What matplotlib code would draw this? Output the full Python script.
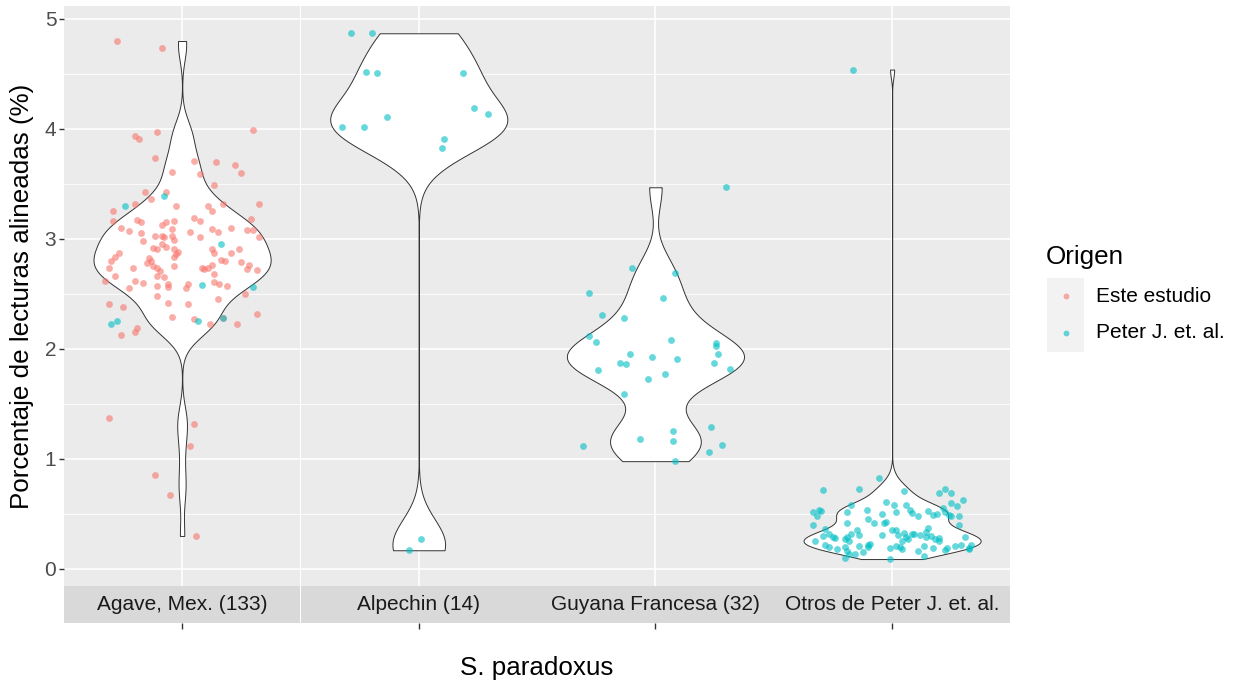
import numpy as np
import matplotlib.pyplot as plt
from matplotlib.lines import Line2D
from matplotlib.patches import Rectangle

plt.rcParams["font.family"] = ["Liberation Sans", "DejaVu Sans"]

W, H = 1234, 685

groups = ["Agave, Mex. (133)", "Alpechin (14)", "Guyana Francesa (32)", "Otros de Peter J. et. al."]
origins = ["Este estudio", "Peter J. et. al."]
colors = ["#F8766D", "#00BFC4"]

# Agave, Mex. - points from this study
agave_este_vals = [4.80, 4.74, 3.94, 3.91, 3.97, 3.99, 3.74, 3.71, 3.70, 3.67, 3.60, 3.61, 3.59, 3.49,
                   3.43, 3.43, 3.36, 3.32, 3.30, 3.30, 3.25, 3.32, 3.32, 3.25, 3.16, 3.17, 3.15, 3.19,
                   3.16, 3.18, 3.10, 3.07, 3.13, 3.15, 3.16, 3.09, 3.09, 3.06, 3.10, 3.08, 3.08, 3.02,
                   3.05, 2.98, 3.03, 3.03, 3.02, 3.03, 2.99, 3.06, 3.02, 2.92, 2.91, 2.95, 2.93, 2.91,
                   2.88, 2.86, 2.84, 2.91, 2.87, 2.87, 2.91, 2.87, 2.84, 2.80, 2.74, 2.62, 2.66, 2.74,
                   2.83, 2.80, 2.78, 2.75, 2.74, 2.71, 2.75, 2.66, 2.65, 2.62, 2.60, 2.55, 2.57, 2.59,
                   2.56, 2.55, 2.59, 2.74, 2.73, 2.74, 2.76, 2.68, 2.81, 2.80, 2.79, 2.73, 2.76, 2.72,
                   2.61, 2.59, 2.57, 2.50, 2.48, 2.45, 2.41, 2.38, 2.19, 2.15, 2.13, 2.42, 2.41, 2.29,
                   2.27, 2.23, 2.28, 2.23, 2.32, 1.37, 1.32, 1.12, 0.85, 0.67, 0.30]
agave_este_jit = [-0.33, -0.10, -0.24, -0.22, -0.13, 0.36, -0.14, 0.06, 0.17, 0.27, 0.30, -0.05, 0.09, 0.16,
                  -0.19, -0.08, -0.16, -0.24, -0.03, 0.13, 0.15, 0.21, 0.39, -0.35, -0.35, -0.23, -0.21, 0.06,
                  0.09, 0.35, -0.31, -0.27, -0.10, -0.08, -0.04, -0.05, 0.15, 0.18, 0.25, 0.33, 0.36, 0.39,
                  -0.21, -0.20, -0.14, -0.10, -0.09, -0.05, -0.04, 0.04, 0.09, -0.15, -0.13, -0.10, -0.08, -0.04,
                  -0.02, -0.03, -0.04, 0.15, 0.16, 0.25, 0.29, -0.32, -0.34, -0.36, -0.37, -0.39, -0.34, -0.25,
                  -0.17, -0.16, -0.18, -0.15, -0.13, -0.11, -0.04, -0.13, -0.09, -0.24, -0.20, -0.27, -0.13, -0.07,
                  -0.07, 0.02, 0.03, 0.10, 0.11, 0.13, 0.15, 0.16, 0.20, 0.22, 0.30, 0.33, 0.34, 0.38,
                  0.16, 0.19, 0.23, 0.32, -0.13, 0.18, -0.37, -0.30, -0.23, -0.24, -0.31, -0.07, 0.03, -0.05,
                  0.06, 0.14, 0.21, 0.28, 0.38, -0.37, 0.06, 0.04, -0.14, -0.06, 0.07]
# Agave, Mex. - points from Peter J. et al.
agave_peter_vals = [3.39, 3.30, 2.95, 2.58, 2.56, 2.23, 2.25, 2.25, 2.28]
agave_peter_jit = [-0.09, -0.29, 0.20, 0.10, 0.36, -0.36, -0.33, 0.08, 0.21]

alpechin_vals = [4.87, 4.87, 4.52, 4.51, 4.51, 4.19, 4.14, 4.11, 4.02, 4.02, 3.91, 3.83, 0.27, 0.17]
alpechin_jit = [-0.345, -0.24, -0.27, -0.21, 0.225, 0.28, 0.35, -0.16, -0.39, -0.28, 0.13, 0.12, 0.01, -0.05]

guyana_vals = [3.47, 2.74, 2.69, 2.51, 2.46, 2.31, 2.28, 2.12, 2.06, 2.08, 2.05, 2.03, 1.95, 1.95, 1.93, 1.91,
               1.87, 1.86, 1.87, 1.81, 1.82, 1.77, 1.73, 1.59, 1.29, 1.25, 1.18, 1.16, 1.12, 1.13, 1.06, 0.98]
guyana_jit = [0.36, -0.12, 0.10, -0.34, 0.04, -0.27, -0.16, -0.34, -0.30, 0.08, 0.31, 0.31, 0.32, -0.13, -0.02, 0.11,
              -0.18, -0.15, 0.30, -0.29, 0.38, 0.05, -0.04, -0.16, 0.28, 0.09, -0.08, 0.09, -0.37, 0.34, 0.27, 0.10]

otros_vals = [4.54, 0.83, 0.72, 0.73, 0.71, 0.69, 0.73, 0.69, 0.63, 0.60, 0.55, 0.57, 0.52, 0.54, 0.53, 0.48,
              0.40, 0.58, 0.52, 0.54, 0.61, 0.58, 0.52, 0.58, 0.54, 0.51, 0.48, 0.53, 0.49, 0.50, 0.52, 0.49,
              0.48, 0.48, 0.40, 0.50, 0.45, 0.42, 0.42, 0.43, 0.42, 0.36, 0.32, 0.30, 0.25, 0.29, 0.28, 0.27,
              0.29, 0.25, 0.32, 0.35, 0.31, 0.22, 0.20, 0.18, 0.20, 0.16, 0.10, 0.14, 0.14, 0.21, 0.15, 0.20,
              0.22, 0.23, 0.31, 0.19, 0.09, 0.35, 0.35, 0.31, 0.25, 0.21, 0.20, 0.18, 0.33, 0.29, 0.27, 0.32,
              0.32, 0.31, 0.34, 0.37, 0.29, 0.30, 0.27, 0.28, 0.25, 0.16, 0.12, 0.21, 0.19, 0.17, 0.19, 0.21,
              0.22, 0.29, 0.22, 0.18, 0.19]
otros_jit = [-0.20, -0.066, -0.35, -0.17, 0.06, 0.24, 0.27, 0.30, 0.36, 0.30, 0.26, 0.33, -0.40, -0.37, -0.36, -0.38,
             -0.40, -0.21, -0.23, -0.13, -0.03, 0.01, 0.02, 0.07, 0.09, 0.10, 0.13, 0.18, 0.21, 0.23, 0.27, 0.29,
             0.30, 0.34, 0.34, -0.05, -0.12, -0.09, -0.04, -0.03, -0.23, -0.34, -0.32, -0.35, -0.39, -0.30, -0.29, -0.24,
             -0.23, -0.22, -0.21, -0.18, -0.17, -0.34, -0.32, -0.28, -0.24, -0.23, -0.24, -0.22, -0.19, -0.17, -0.15, -0.12,
             -0.12, -0.11, -0.05, -0.01, -0.01, 0.00, 0.02, 0.03, 0.05, 0.02, 0.04, 0.05, 0.06, 0.07, 0.08, 0.10,
             0.11, 0.14, 0.17, 0.18, 0.17, 0.20, 0.22, 0.24, 0.24, 0.13, 0.16, 0.16, 0.21, 0.27, 0.28, 0.32,
             0.35, 0.37, 0.40, 0.39, 0.39]

# (values, jitter, origin index) per panel
panels = [
    [(agave_este_vals, agave_este_jit, 0), (agave_peter_vals, agave_peter_jit, 1)],
    [(alpechin_vals, alpechin_jit, 1)],
    [(guyana_vals, guyana_jit, 1)],
    [(otros_vals, otros_jit, 1)],
]


def nrd0(x):
    sd = np.std(x, ddof=1)
    iqr = np.subtract(*np.percentile(x, [75, 25]))
    lo = min(sd, iqr / 1.34) if iqr > 0 else sd
    return 0.9 * lo * len(x) ** -0.2


def draw_violin(ax, vals, pos=1.0, width=0.9):
    vals = np.asarray(vals, dtype=float)
    bw = nrd0(vals)
    ys = np.linspace(vals.min(), vals.max(), 512)
    dens = np.exp(-0.5 * ((ys[:, None] - vals[None, :]) / bw) ** 2).sum(axis=1)
    dens = dens / dens.max() * width / 2
    ax.fill_betweenx(ys, pos - dens, pos + dens, facecolor="white",
                     edgecolor="#333333", linewidth=0.7, zorder=2)


def fig_box(x0, y0, x1, y1):
    # pixel box (top-left origin) -> figure fraction rect
    return [x0 / W, 1 - y1 / H, (x1 - x0) / W, (y1 - y0) / H]


fig = plt.figure(figsize=(W / 100, H / 100), dpi=100)

panel_left, panel_right = 64, 1010.7
panel_top, panel_bottom, strip_bottom = 6, 586, 623
pw = (panel_right - panel_left) / 4

for i, (name, layers) in enumerate(zip(groups, panels)):
    x0 = panel_left + i * pw
    x1 = x0 + pw - 0.5
    ax = fig.add_axes(fig_box(x0, panel_top, x1, panel_bottom))
    ax.set_facecolor("#EBEBEB")
    for s in ax.spines.values():
        s.set_visible(False)
    ax.set_xlim(0.4, 1.6)
    ax.set_ylim(-0.155, 5.118)
    ax.set_xticks([1])
    ax.set_xticklabels([])
    ax.set_yticks(range(6))
    ax.set_yticks(np.arange(0.5, 5, 1), minor=True)
    ax.grid(True, which="major", color="white", linewidth=1.2, zorder=0)
    ax.grid(True, which="minor", axis="y", color="white", linewidth=0.6, zorder=0)
    ax.set_axisbelow(True)
    ax.tick_params(axis="x", length=0)
    ax.tick_params(axis="y", which="minor", length=0)
    if i == 0:
        ax.tick_params(axis="y", which="major", length=3.5, width=1.0, color="#333333",
                       labelsize=15, labelcolor="#4D4D4D", pad=2)
    else:
        ax.tick_params(axis="y", which="major", length=0, labelleft=False)

    all_vals = np.concatenate([np.asarray(v, dtype=float) for v, _, _ in layers])
    draw_violin(ax, all_vals)
    for vals, jit, k in layers:
        ax.scatter(1 + np.asarray(jit), vals, s=24, color=colors[k], alpha=0.6,
                   linewidths=0, zorder=3)

    sax = fig.add_axes(fig_box(x0, panel_bottom, x1, strip_bottom))
    sax.set_facecolor("#D9D9D9")
    for s in sax.spines.values():
        s.set_visible(False)
    sax.set_xlim(0.4, 1.6)
    sax.set_ylim(0, 1)
    sax.set_yticks([])
    sax.set_xticks([1])
    sax.set_xticklabels([""])
    sax.tick_params(axis="x", length=4, width=1.0, color="#333333", direction="out")
    sax.text(0.5, 0.5, name, transform=sax.transAxes, ha="center", va="center",
             fontsize=15, color="#1A1A1A")

fig.text(22 / W, 1 - 296 / H, "Porcentaje de lecturas alineadas (%)", rotation=90,
         ha="center", va="center", fontsize=18.7, color="black")
fig.text(537 / W, 1 - 668 / H, "S. paradoxus", ha="center", va="center",
         fontsize=18.7, color="black")

# legend
fig.text(1046 / W, 1 - 257 / H, "Origen", ha="left", va="center", fontsize=18.7, color="black")
key_y = [296, 333]
for k, lab in enumerate(origins):
    fig.add_artist(Rectangle((1047 / W, 1 - (key_y[k] + 18.5) / H), 37 / W, 37 / H,
                             transform=fig.transFigure, facecolor="#F2F2F2", edgecolor="none"))
    fig.add_artist(Line2D([1065.5 / W], [1 - key_y[k] / H], transform=fig.transFigure,
                          marker="o", markersize=4.2, color=colors[k], alpha=0.6,
                          markeredgewidth=0, linestyle="none"))
    fig.text(1096 / W, 1 - key_y[k] / H, lab, ha="left", va="center", fontsize=15, color="black")

fig.savefig("out.png", dpi=100)
